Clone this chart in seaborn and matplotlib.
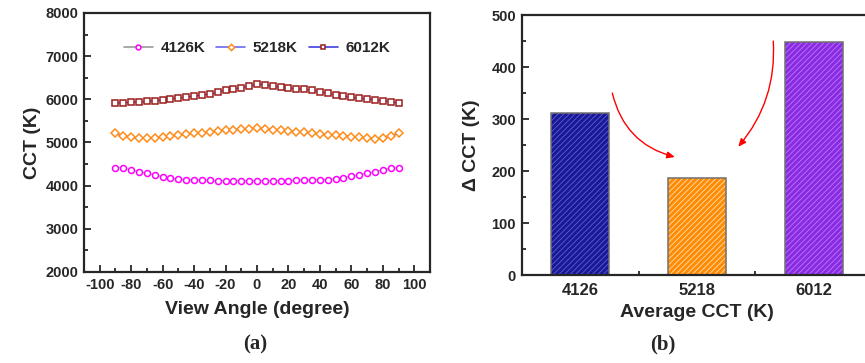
import numpy as np
import pandas as pd
import matplotlib
matplotlib.use("Agg")
import matplotlib.pyplot as plt
from matplotlib.patches import Rectangle
from matplotlib.lines import Line2D
from matplotlib.ticker import MultipleLocator
import seaborn as sns

# ---------------- data ----------------
angles = list(range(-90, 95, 5))
cct_4126 = [4417, 4417, 4363, 4325, 4286, 4248, 4209, 4178, 4155, 4140, 4140, 4132, 4124,
            4116, 4116, 4116, 4116, 4116, 4116, 4116, 4116, 4116, 4116, 4124, 4124, 4132,
            4140, 4140, 4163, 4186, 4225, 4255, 4286, 4325, 4363, 4410, 4417]
cct_5218 = [5212, 5158, 5120, 5096, 5096, 5112, 5127, 5150, 5166, 5189, 5212, 5228, 5243,
            5266, 5282, 5297, 5305, 5320, 5328, 5313, 5297, 5282, 5266, 5251, 5235, 5220,
            5204, 5181, 5166, 5150, 5135, 5120, 5104, 5089, 5104, 5150, 5212]
cct_6012 = [5914, 5922, 5930, 5938, 5953, 5968, 5984, 6007, 6030, 6053, 6076, 6100, 6123,
            6161, 6215, 6246, 6262, 6308, 6354, 6339, 6308, 6277, 6262, 6246, 6231, 6208,
            6177, 6138, 6100, 6069, 6046, 6022, 6007, 5991, 5968, 5945, 5914]
series_labels = ["4126K", "5218K", "6012K"]

bar_categories = ["4126", "5218", "6012"]
delta_cct = [312, 186, 448]

# ---------------- style ----------------
sns.set_style("ticks")
plt.rcParams["font.family"] = ["Liberation Sans", "DejaVu Sans"]
plt.rcParams["font.weight"] = "bold"
plt.rcParams["axes.labelweight"] = "bold"
plt.rcParams["axes.unicode_minus"] = False
plt.rcParams["hatch.linewidth"] = 0.6

fig = plt.figure(figsize=(8.65, 3.63), dpi=100)
ax1 = fig.add_axes([0.0971, 0.2507, 0.4, 0.7135])
ax2 = fig.add_axes([0.603, 0.2424, 0.4056, 0.716])

# ---------------- panel (a) ----------------
specs = [
    (cct_4126, "o", "#FF00FF", "#9A9A9A", "white", 4.3),
    (cct_5218, "D", "#FF8C1A", "#6A6AF0", "white", 4.0),
    (cct_6012, "s", "#9B1C1C", "#4040E0", "white", 4.0),
]
handles = []
for vals, mk, mec, lc, mfc, ms in specs:
    df = pd.DataFrame({"angle": angles, "cct": vals})
    sns.lineplot(data=df, x="angle", y="cct", ax=ax1, color=lc, lw=0.8,
                 marker=mk, markersize=ms,
                 markerfacecolor=mfc, markeredgecolor=mec, markeredgewidth=1.1)
    handles.append(Line2D([], [], color=lc, lw=1.2, marker=mk, markersize=ms - 0.8,
                          markerfacecolor=mfc, markeredgecolor=mec, markeredgewidth=1.1))

ax1.set_xlim(-110, 110)
ax1.set_ylim(2000, 8000)
ax1.xaxis.set_major_locator(MultipleLocator(20))
ax1.xaxis.set_minor_locator(MultipleLocator(10))
ax1.yaxis.set_major_locator(MultipleLocator(1000))
ax1.yaxis.set_minor_locator(MultipleLocator(500))
ax1.set_xticks(np.arange(-100, 101, 20))
ax1.set_xlabel("View Angle (degree)", fontsize=14, labelpad=7)
ax1.set_ylabel("CCT (K)", fontsize=14, labelpad=3)
ax1.legend(handles, series_labels, loc="center", bbox_to_anchor=(0.5, 0.865),
           ncol=3, frameon=False, fontsize=11, handlelength=1.9, columnspacing=0.7,
           handletextpad=0.5)

# ---------------- panel (b) ----------------
bdf = pd.DataFrame({"cat": bar_categories, "val": delta_cct})
face = ["#1A1A8E", "#FF8C00", "#8A2BE2"]
hatchc = ["#5A5AF0", "#FFE0C0", "#B779FF"]
sns.barplot(data=bdf, x="cat", y="val", hue="cat", palette=face, legend=False,
            width=0.5, ax=ax2, saturation=1)
for p, hc in zip(ax2.patches, hatchc):
    p.set_hatch("//////")
    p.set_edgecolor(hc)
    p.set_linewidth(0)
    ax2.add_patch(Rectangle(p.get_xy(), p.get_width(), p.get_height(), fill=False,
                            edgecolor="#707070", lw=1.1, zorder=p.get_zorder() + 0.1))

ax2.set_xlim(-0.5, 2.5)
ax2.set_ylim(0, 500)
ax2.yaxis.set_major_locator(MultipleLocator(100))
ax2.yaxis.set_minor_locator(MultipleLocator(50))
ax2.set_xticks([0, 1, 2])
ax2.set_xticks([0.5, 1.5], minor=True)
ax2.set_xlabel("Average CCT (K)", fontsize=14, labelpad=4)
ax2.set_ylabel("Δ CCT (K)", fontsize=14, labelpad=8)

arrow_kw = dict(arrowstyle="-|>,head_length=0.45,head_width=0.2", color="red", lw=1.0,
                shrinkA=0, shrinkB=0)
ax2.annotate("", xy=(0.81, 227), xytext=(0.276, 350),
             arrowprops=dict(connectionstyle="arc3,rad=0.3", **arrow_kw))
ax2.annotate("", xy=(1.353, 247), xytext=(1.652, 450),
             arrowprops=dict(connectionstyle="arc3,rad=-0.2", **arrow_kw))

for ax in (ax1, ax2):
    ax.tick_params(which="both", direction="in", top=False, right=False,
                   labelsize=10.5, width=1.3, pad=4)
    ax.tick_params(which="major", length=5)
    ax.tick_params(which="minor", length=3)
    for s in ax.spines.values():
        s.set_linewidth(1.6)
        s.set_visible(True)
    for lab in ax.get_xticklabels() + ax.get_yticklabels():
        lab.set_fontweight("bold")

ax2.set_xticklabels(bar_categories, fontweight="bold", fontsize=12)
ax2.tick_params(axis="x", which="major", pad=6)

fig.text(0.295, 0.05, "(a)", fontsize=15, fontweight="bold",
         family=["Liberation Serif", "DejaVu Serif"], ha="center", va="center")
fig.text(0.7665, 0.05, "(b)", fontsize=15, fontweight="bold",
         family=["Liberation Serif", "DejaVu Serif"], ha="center", va="center")

fig.savefig("out.png", dpi=100, facecolor="white")
